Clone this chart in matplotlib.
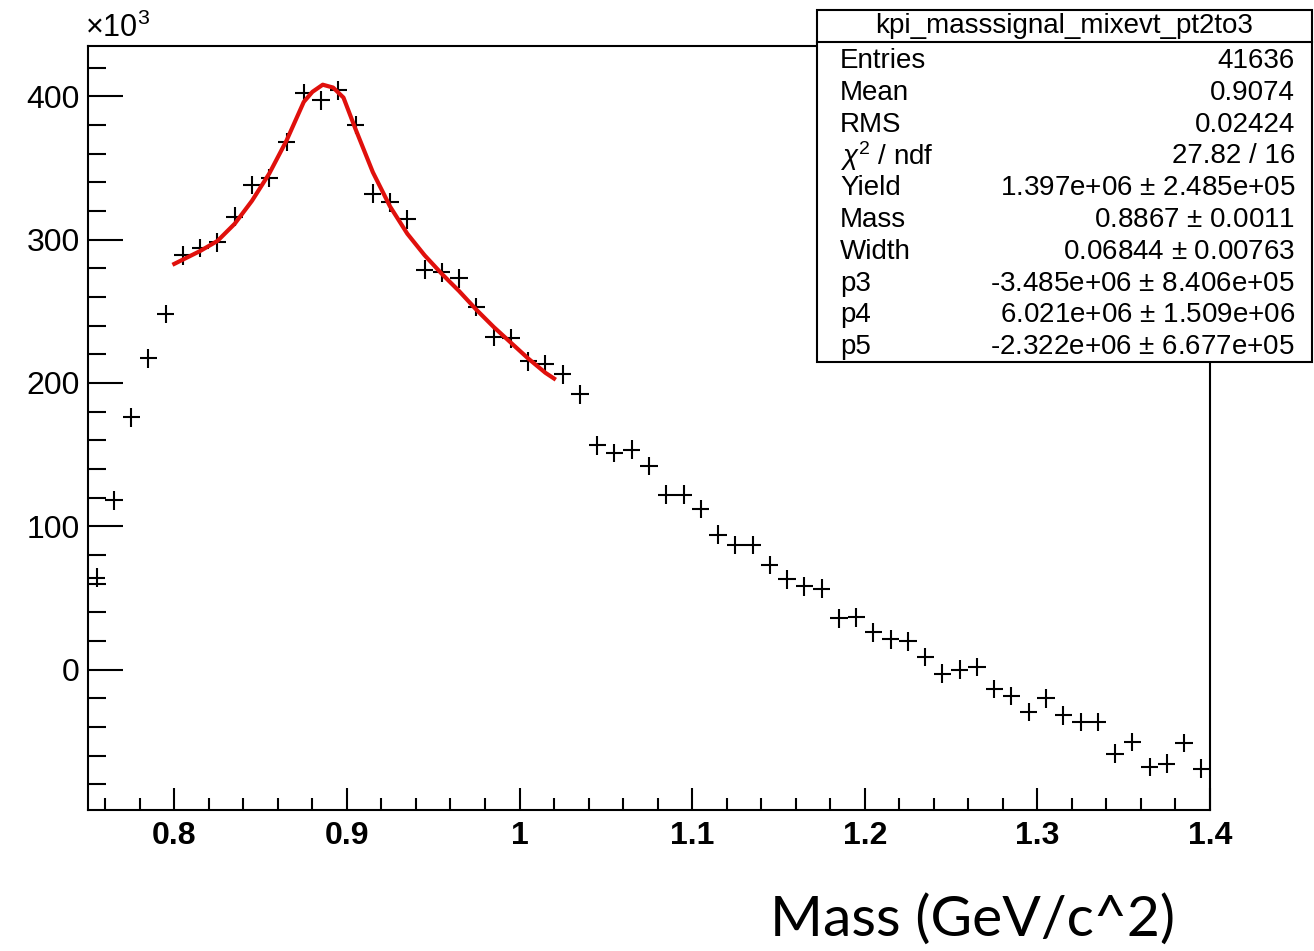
import numpy as np
import matplotlib
matplotlib.use('Agg')
import matplotlib.pyplot as plt
from matplotlib.ticker import MultipleLocator, FixedLocator
from matplotlib.patches import Rectangle
from matplotlib.lines import Line2D

# histogram binning (0.75 - 1.40, 0.01 wide bins)
bin_lo = 0.75
bin_w = 0.01

# bin contents, in units of 10^3
counts = [64, 118, 176, 217, 248, 289, 294, 298, 316, 338,
          343, 368, 402, 397, 404, 380, 332, 326, 314, 279,
          277, 273, 253, 232, 231, 215, 213, 206, 192, 156.5,
          151, 153.5, 142, 122, 122, 112, 94, 87, 87, 73,
          63, 58, 56.5, 35.6, 36.3, 26, 21, 19.7, 8.8, -2.8,
          0, 1.8, -13.7, -18.4, -29.6, -20.2, -31.9, -36.5, -36.5, -58.6,
          -50.5, -68, -65.6, -51.2, -69.1]
count_err = 6.5

# fitted curve (BW + pol2), units of 10^3
fit_x = [0.800, 0.805, 0.815, 0.825, 0.835, 0.845, 0.855, 0.865, 0.875, 0.880,
         0.886, 0.892, 0.898, 0.905, 0.915, 0.925, 0.935, 0.945, 0.955, 0.965,
         0.975, 0.985, 0.995, 1.005, 1.015, 1.020]
fit_y = [283, 286, 292, 299, 311, 327, 346, 369, 396, 403,
         408, 406, 399, 377, 347, 323, 304, 289, 276, 264,
         251, 239, 228, 217, 207, 203]

stat_title = 'kpi_masssignal_mixevt_pt2to3'
stat_names = ['Entries', 'Mean', 'RMS', r'$\chi^{2}$ / ndf', 'Yield', 'Mass', 'Width', 'p3', 'p4', 'p5']
stat_vals = ['41636', '0.9074', '0.02424', '27.82 / 16',
             '1.397e+06 $\\pm$ 2.485e+05', '0.8867 $\\pm$ 0.0011', '0.06844 $\\pm$ 0.00763',
             '-3.485e+06 $\\pm$ 8.406e+05', '6.021e+06 $\\pm$ 1.509e+06', '-2.322e+06 $\\pm$ 6.677e+05']

plt.rcParams['font.family'] = ['Liberation Sans', 'DejaVu Sans']
plt.rcParams['mathtext.fontset'] = 'custom'
plt.rcParams['mathtext.rm'] = 'Liberation Sans'
plt.rcParams['mathtext.it'] = 'Liberation Sans:italic'

W, H = 1314, 951
fig = plt.figure(figsize=(W / 100, H / 100), dpi=100)
ax = fig.add_axes([88 / W, 1 - 810 / H, (1210 - 88) / W, (810 - 46) / H])

centres = bin_lo + bin_w * (np.arange(len(counts)) + 0.5)
ax.errorbar(centres, counts, xerr=bin_w / 2, yerr=count_err, fmt='none',
            ecolor='black', elinewidth=1.5, capsize=0)
ax.plot(fit_x, fit_y, '-', color='#e0100c', lw=3)

ax.set_xlim(0.75, 1.40)
ax.set_ylim(-98, 435)

ax.xaxis.set_major_locator(FixedLocator([0.8, 0.9, 1.0, 1.1, 1.2, 1.3, 1.4]))
ax.xaxis.set_minor_locator(MultipleLocator(0.02))
ax.yaxis.set_major_locator(MultipleLocator(100))
ax.yaxis.set_minor_locator(MultipleLocator(20))
ax.set_xticklabels(['0.8', '0.9', '1', '1.1', '1.2', '1.3', '1.4'])
ax.set_yticks([0, 100, 200, 300, 400])
ax.set_yticklabels(['0', '100', '200', '300', '400'])

ax.tick_params(axis='x', which='major', direction='in', length=16, width=1.5,
               labelsize=23, pad=8, top=False)
ax.tick_params(axis='x', which='minor', direction='in', length=9, width=1.5, top=False)
ax.tick_params(axis='y', which='major', direction='in', length=25, width=1.5,
               labelsize=23, pad=6, right=False)
ax.tick_params(axis='y', which='minor', direction='in', length=13, width=1.5, right=False)
for lab in ax.get_xticklabels():
    lab.set_fontweight('bold')
for sp in ax.spines.values():
    sp.set_linewidth(1.5)

fig.text(85 / W, 1 - 44 / H, r'$\times$10$^{3}$', fontsize=22, ha='left', va='bottom')

# stat box
bx0, bx1, by0, by1 = 817, 1312, 10, 362
fig.patches.append(Rectangle((bx0 / W, 1 - by1 / H), (bx1 - bx0) / W, (by1 - by0) / H,
                             transform=fig.transFigure, facecolor='white',
                             edgecolor='black', lw=1.5, zorder=5))
fig.lines.append(Line2D([bx0 / W, bx1 / W], [1 - 42 / H, 1 - 42 / H],
                        transform=fig.transFigure, color='black', lw=1.5, zorder=6))
fig.text((bx0 + bx1) / 2 / W, 1 - 26 / H, stat_title, fontsize=20,
         ha='center', va='center', zorder=7)
for i, (nm, val) in enumerate(zip(stat_names, stat_vals)):
    yy = 1 - (61 + i * 31.8) / H
    fig.text(840 / W, yy, nm, fontsize=20, ha='left', va='center', zorder=7)
    fig.text(1295 / W, yy, val, fontsize=20, ha='right', va='center', zorder=7)

fig.text(973 / W, 1 - 920 / H, 'Mass (GeV/c^2)', fontsize=41, family=['Lato', 'DejaVu Sans'],
         ha='center', va='center')

fig.savefig('out.png', dpi=100)
